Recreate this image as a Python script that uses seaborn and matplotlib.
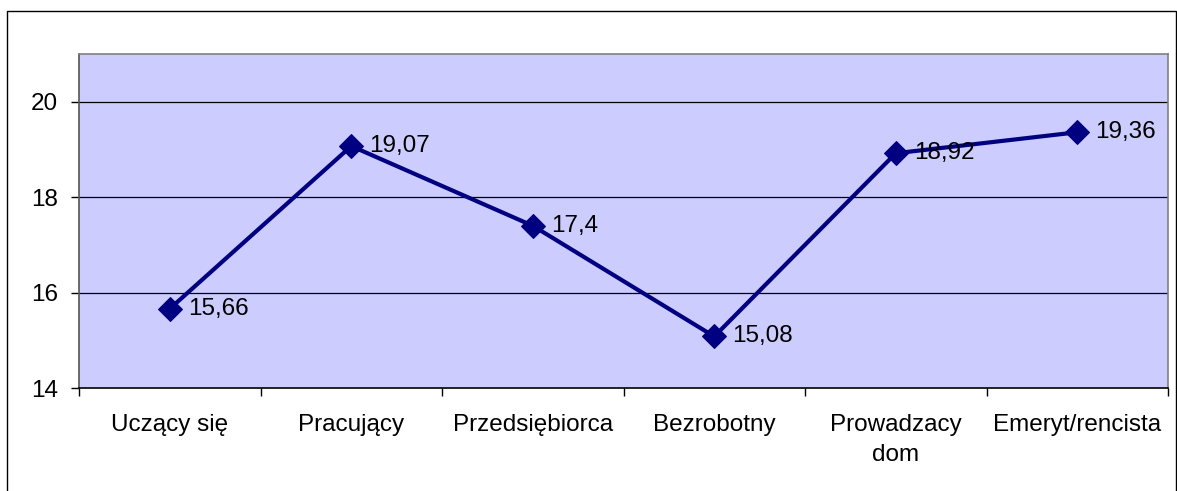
import matplotlib
matplotlib.use("Agg")
import matplotlib.pyplot as plt
import seaborn as sns
import pandas as pd
from matplotlib.patches import Rectangle

categories = ["Uczący się", "Pracujący", "Przedsiębiorca", "Bezrobotny", "Prowadzacy\ndom", "Emeryt/rencista"]
values = [15.66, 19.07, 17.4, 15.08, 18.92, 19.36]
value_labels = ["15,66", "19,07", "17,4", "15,08", "18,92", "19,36"]
y_ticks = [14, 16, 18, 20]

sns.set_style("white")
plt.rcParams["font.family"] = ["Liberation Sans", "DejaVu Sans"]

FS = 17.5
W, H = 1177, 491
fig = plt.figure(figsize=(W / 100, H / 100), dpi=100)
ax = fig.add_axes([79 / W, 1 - 388 / H, (1168 - 79) / W, (388 - 54) / H])
ax.set_facecolor("#CCCCFF")

df = pd.DataFrame({"cat": categories, "val": values})
sns.lineplot(data=df, x="cat", y="val", ax=ax, color="#000080", linewidth=3.0,
             marker="D", markersize=12, markeredgecolor="#000080", sort=False)

for i, (v, lab) in enumerate(zip(values, value_labels)):
    ax.annotate(lab, (i, v), xytext=(13, 0), textcoords="offset points",
                ha="left", va="center", fontsize=FS, color="black")

ax.set_xlim(-0.5, len(categories) - 0.5)
ax.set_ylim(14, 21)
ax.set_yticks(y_ticks)
ax.set_yticklabels([str(t) for t in y_ticks], fontsize=FS)
ax.set_xticks(range(len(categories)))
ax.set_xticklabels(categories, fontsize=FS, linespacing=1.45, va="top")
ax.set_xticks([i - 0.5 for i in range(len(categories) + 1)], minor=True)
ax.tick_params(axis="x", which="major", length=0, pad=19, labelcolor="black")
ax.tick_params(axis="x", which="minor", length=6, width=1, color="black", direction="out", bottom=True)
ax.tick_params(axis="y", length=6, width=1, color="black", direction="out", left=True, pad=9, labelcolor="black")
ax.set_xlabel("")
ax.set_ylabel("")

for t in [16, 18, 20]:
    ax.axhline(t, color="black", linewidth=0.9, zorder=1)

ax.spines["left"].set_color("#555555")
ax.spines["bottom"].set_color("black")
ax.spines["top"].set_color("#808080")
ax.spines["right"].set_color("#808080")
for s in ax.spines.values():
    s.set_linewidth(1.2)

fig.patches.append(Rectangle((7 / W, -10 / H), (1176 - 7) / W, (H - 11 + 10) / H,
                             transform=fig.transFigure, fill=False,
                             edgecolor="black", linewidth=1.0))

fig.savefig("out.png", dpi=100)
